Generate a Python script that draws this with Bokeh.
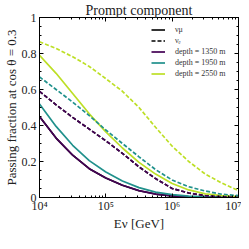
import numpy as np
from bokeh.plotting import figure
from bokeh.models import (Range1d, LinearAxis, LogAxis, SingleIntervalTicker, LogTicker,
                          Legend, LegendItem)
from bokeh.embed import file_html
from bokeh.resources import INLINE

# ---- data ----
log_E = [4.0, 4.25, 4.5, 4.75, 5.0, 5.25, 5.5, 5.75, 6.0, 6.25, 6.5, 6.75, 7.0]
numu_1350 = [0.45, 0.33, 0.235, 0.16, 0.108, 0.068, 0.038, 0.019, 0.009, 0.004, 0.002, 0.001, 0.0]
numu_1950 = [0.52, 0.395, 0.29, 0.205, 0.142, 0.092, 0.055, 0.03, 0.016, 0.008, 0.004, 0.002, 0.001]
numu_2550 = [0.79, 0.69, 0.578, 0.465, 0.365, 0.275, 0.195, 0.13, 0.078, 0.042, 0.02, 0.01, 0.005]
nue_1350 = [0.59, 0.515, 0.445, 0.38, 0.315, 0.245, 0.17, 0.105, 0.05, 0.025, 0.01, 0.004, 0.001]
nue_1950 = [0.67, 0.60, 0.53, 0.455, 0.375, 0.30, 0.226, 0.155, 0.097, 0.06, 0.036, 0.018, 0.01]
nue_2550 = [0.865, 0.828, 0.782, 0.728, 0.66, 0.59, 0.50, 0.39, 0.285, 0.2, 0.13, 0.08, 0.038]
depths = ["depth = 1350 m", "depth = 1950 m", "depth = 2550 m"]
colors = ["#440154", "#21918c", "#bddf26"]
x_ticks = [1e4, 1e5, 1e6, 1e7]
x_tick_labels = ["10\u2074", "10\u2075", "10\u2076", "10\u2077"]

E = [10 ** v for v in log_E]
FONT = "Liberation Serif"

p = figure(width=241, height=233, x_axis_type="log",
           x_range=Range1d(1e4, 1e7), y_range=Range1d(0, 1),
           output_backend="svg", toolbar_location=None,
           min_border_left=0, min_border_right=3, min_border_top=0, min_border_bottom=0)
p.xgrid.visible = False
p.ygrid.visible = False
p.outline_line_color = "black"
p.outline_line_width = 1
p.background_fill_color = "white"
p.border_fill_color = "white"

p.title.text = "Prompt component"
p.title.align = "center"
p.title.text_font = FONT
p.title.text_font_size = "14px"
p.title.text_font_style = "normal"
p.title.text_color = "#222222"
p.title.standoff = 0
p.title.offset = 0

# axes
xa = p.xaxis[0]
xa.ticker = LogTicker(desired_num_ticks=4, num_minor_ticks=10)
xa.major_label_overrides = {t: l for t, l in zip(x_ticks, x_tick_labels)}
ya = p.yaxis[0]
ya.ticker = SingleIntervalTicker(interval=0.2, num_minor_ticks=4)
for ax in (xa, ya):
    ax.major_tick_in = 4
    ax.major_tick_out = 0
    ax.minor_tick_in = 2
    ax.minor_tick_out = 0
    ax.axis_line_color = "black"
    ax.major_tick_line_color = "black"
    ax.minor_tick_line_color = "black"
    ax.major_label_text_font = FONT
    ax.major_label_text_font_size = "12px"
    ax.major_label_text_color = "#222222"
    ax.axis_label_text_font = FONT
    ax.axis_label_text_font_style = "normal"
    ax.axis_label_text_color = "#222222"
    ax.axis_label_standoff = 0
ya.major_label_standoff = 3
xa.major_label_standoff = 1
ya.axis_label = "Passing fraction at cos \u03b8 = 0.3"
ya.axis_label_text_font_size = "13px"
xa.axis_label = "E\u03bd [GeV]"
xa.axis_label_text_font_size = "13px"

ra = LinearAxis(ticker=SingleIntervalTicker(interval=0.2, num_minor_ticks=4))
ta = LogAxis(ticker=LogTicker(desired_num_ticks=4, num_minor_ticks=10))
for ax in (ra, ta):
    ax.major_tick_in = 4
    ax.major_tick_out = 0
    ax.minor_tick_in = 2
    ax.minor_tick_out = 0
    ax.major_label_text_font_size = "1px"
    ax.major_label_text_alpha = 0
    ax.major_label_standoff = 0
    ax.axis_label_standoff = 0
    ax.axis_line_color = "black"
p.add_layout(ra, "right")
p.add_layout(ta, "above")

# legend proxies: black lines drawn beneath the purple curves (hidden by them)
r_mu = p.line(E, numu_1350, line_color="black", line_width=1.6)
r_e = p.line(E, nue_1350, line_color="black", line_width=1.6, line_dash="4 2")

# curves
solid = [numu_1350, numu_1950, numu_2550]
dashed = [nue_1350, nue_1950, nue_2550]
depth_renderers = []
for ys, c in zip(solid, colors):
    r = p.line(E, ys, line_color=c, line_width=1.7)
    depth_renderers.append(r)
for ys, c in zip(dashed, colors):
    p.line(E, ys, line_color=c, line_width=1.7, line_dash="4 2")

items = [LegendItem(label="\u03bd\u03bc", renderers=[r_mu]),
         LegendItem(label="\u03bd\u2091", renderers=[r_e])]
for lab, r in zip(depths, depth_renderers):
    items.append(LegendItem(label=lab, renderers=[r]))
leg = Legend(items=items, location=(112, 118), padding=0, margin=0, spacing=0,
             glyph_width=14, glyph_height=11, label_height=11, label_standoff=10,
             label_text_font=FONT, label_text_font_size="8px", label_text_color="#333333",
             border_line_alpha=0, background_fill_alpha=0)
p.add_layout(leg)

open("out.html", "w").write(file_html(p, INLINE))
